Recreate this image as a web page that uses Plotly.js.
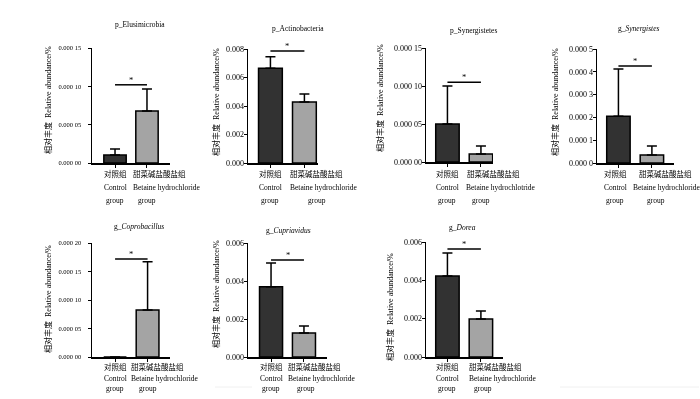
<!DOCTYPE html>
<html><head><meta charset="utf-8">
<script src="https://cdn.plot.ly/plotly-3.0.1.min.js"></script>
<style>html,body{margin:0;padding:0;background:#fff}#chart{width:700px;height:399px;filter:grayscale(100%)}</style>
</head><body><div id="chart"></div>
<script>
// ---------- DATA ----------
const panelTitles = ["p_Elusimicrobia","p_Actinobacteria","p_Synergistetes","g_<i>Synergistes</i>","g_<i>Coprobacillus</i>","g_<i>Cupriavidus</i>","g_<i>Dorea</i>"];
const groupIndex = [0, 1];
const controlMean = [0.0000104, 0.00665, 0.00005, 0.000205, 0, 0.0037, 0.00423];
const controlErr  = [0.0000079, 0.00080, 0.00005, 0.000207, 0, 0.00125, 0.0012];
const betaineMean = [0.0000678, 0.00428, 0.0000105, 0.000035, 0.0000825, 0.00126, 0.00198];
const betaineErr  = [0.0000287, 0.00056, 0.0000105, 0.00004, 0.0000845, 0.00037, 0.00042];
const sigLevel = [0.000102, 0.00786, 0.000105, 0.000425, 0.000172, 0.0051, 0.00563];
const sigMark = ["*","*","*","*","*","*","*"];
const yTickVals = [
  [0, 0.00005, 0.0001, 0.00015],
  [0, 0.002, 0.004, 0.006, 0.008],
  [0, 0.00005, 0.0001, 0.00015],
  [0, 0.0001, 0.0002, 0.0003, 0.0004, 0.0005],
  [0, 0.00005, 0.0001, 0.00015, 0.0002],
  [0, 0.002, 0.004, 0.006],
  [0, 0.002, 0.004, 0.006]
];
const yTickText = [
  ["0.000 00","0.000 05","0.000 10","0.000 15"],
  ["0.000","0.002","0.004","0.006","0.008"],
  ["0.000 00","0.000 05","0.000 10","0.000 15"],
  ["0.000 0","0.000 1","0.000 2","0.000 3","0.000 4","0.000 5"],
  ["0.000 00","0.000 05","0.000 10","0.000 15","0.000 20"],
  ["0.000","0.002","0.004","0.006"],
  ["0.000","0.002","0.004","0.006"]
];
const yRangeMax = [0.00015, 0.008, 0.00015, 0.0005, 0.0002, 0.006, 0.006];
const controlLabel = ["对照组","Control","group"];
const betaineLabelCN = "甜菜碱盐酸盐组";
const betaineLabelEN = ["Betaine hydrochloride","Betaine hydrochloride","Betaine hydrochlotride","Betaine hydrochloride","Betaine hydrochloride","Betaine hydrochloride","Betaine hydrochloride"];
const betaineLabelGroup = "group";
const yAxisTitle = "相对丰度  Relative abundance/%";

// ---------- STYLE / POSITIONS ----------
const W = 700, H = 399;
const panelBox = [ // left, right, top, bottom (px)
  [92,170,48,163],[248,318,49,163],[426,493,48,162],[597,674,49,163],
  [92,170,243,357],[248,327,243,357],[426,503,242,357]
];
const xRange = [[-0.72,1.72],[-0.66,1.40],[-0.64,1.36],[-0.64,1.66],[-0.71,1.69],[-0.70,1.70],[-0.64,1.66]];
const tickFontSize = [6.5,8,8,8,6.5,8,8];
const tickStandoff = [5,-2,-2,-2,5,-2,-2];
const titlePos = [[140,24],[298,29],[473,30],[638,28],[139,226],[288,230],[462,227]];
const yTitlePos = [[48,100],[216,102],[380,98],[555,102],[48,299],[216,294],[390,307]];
const labelRowY = [[174,187,200],[174,187,200],[174,187,200],[174,187,200],[367,378,388],[367,378,388],[367,378,388]];
const betaineShiftCN = [-16,-16,-16,-15,-19,-18,-14];
const betaineShiftEN = [-16,-16,-17,-21,-19,-18,-14];
const controlShift = [0,0,0,-3,0,0,0];
const groupShift = [0,13,0,4,0,2,2];
const FONT = "'Liberation Serif', 'Times New Roman', 'Noto Sans CJK SC', serif";
const controlColor = "#323232", betaineColor = "#a4a4a4";

const data = [], shapes = [], annotations = [];
const layout = {
  width: W, height: H, margin: {l:0,r:0,t:0,b:0},
  paper_bgcolor: "#fff", plot_bgcolor: "rgba(0,0,0,0)",
  showlegend: false, font: {family: FONT, color: "#000", size: 7.5},
  bargap: 0
};
const px2x = p => p / W;
const px2y = p => 1 - p / H;
const tf = (s) => ({size: s, family: FONT, color: "#000"});

for (let i = 0; i < 7; i++) {
  const n = i === 0 ? "" : String(i + 1);
  const xa = "x" + n, ya = "y" + n;
  const b = panelBox[i];
  data.push({
    type: "bar", x: groupIndex, y: [controlMean[i], betaineMean[i]],
    xaxis: xa, yaxis: ya, width: 0.7,
    marker: {color: [controlColor, betaineColor], line: {color: "#000", width: 1.5}},
    error_y: {type: "data", symmetric: false, array: [controlErr[i], betaineErr[i]], arrayminus: [0, 0],
              color: "#000", thickness: 1.5, width: 5, visible: true},
    hoverinfo: "skip"
  });
  layout["xaxis" + n] = {
    domain: [px2x(b[0]), px2x(b[1])], anchor: ya, range: xRange[i], type: "linear",
    showline: true, linecolor: "#000", linewidth: 1.5, showgrid: false, zeroline: false,
    tickvals: groupIndex, ticktext: ["", ""], ticks: "outside", ticklen: 3, tickwidth: 1, tickcolor: "#000",
    fixedrange: true
  };
  layout["yaxis" + n] = {
    domain: [px2y(b[3]), px2y(b[2])], anchor: xa, range: [0, yRangeMax[i]],
    showline: true, linecolor: "#000", linewidth: 1.5, showgrid: false, zeroline: false,
    tickvals: yTickVals[i], ticktext: yTickText[i], ticks: "outside", ticklen: 3, tickwidth: 1, tickcolor: "#000",
    tickfont: tf(tickFontSize[i]), ticklabelstandoff: tickStandoff[i],
    fixedrange: true
  };
  shapes.push({type: "line", xref: xa, yref: ya, x0: groupIndex[0], x1: groupIndex[1], y0: sigLevel[i], y1: sigLevel[i],
               line: {color: "#000", width: 1.5}});
  annotations.push({xref: xa, yref: ya, x: (groupIndex[0] + groupIndex[1]) / 2, y: sigLevel[i], text: sigMark[i],
                    showarrow: false, yanchor: "bottom", yshift: -2, font: tf(8.5)});
  annotations.push({xref: "paper", yref: "paper", x: px2x(titlePos[i][0]), y: px2y(titlePos[i][1]),
                    text: panelTitles[i], showarrow: false, xanchor: "center", yanchor: "middle", font: tf(7.5)});
  annotations.push({xref: "paper", yref: "paper", x: px2x(yTitlePos[i][0]), y: px2y(yTitlePos[i][1]),
                    text: yAxisTitle, showarrow: false, textangle: -90, xanchor: "center", yanchor: "middle", font: tf(8)});
  const ry = labelRowY[i];
  for (let k = 0; k < 3; k++) {
    annotations.push({xref: xa, yref: "paper", x: groupIndex[0], y: px2y(ry[k]), text: controlLabel[k],
                      showarrow: false, xanchor: "center", xshift: controlShift[i], yanchor: "middle", font: tf(7.5)});
  }
  annotations.push({xref: xa, yref: "paper", x: groupIndex[1], y: px2y(ry[0]), text: betaineLabelCN,
                    showarrow: false, xanchor: "left", xshift: betaineShiftCN[i], yanchor: "middle", font: tf(7.5)});
  annotations.push({xref: xa, yref: "paper", x: groupIndex[1], y: px2y(ry[1]), text: betaineLabelEN[i],
                    showarrow: false, xanchor: "left", xshift: betaineShiftEN[i], yanchor: "middle", font: tf(7.5)});
  annotations.push({xref: xa, yref: "paper", x: groupIndex[1], y: px2y(ry[2]), text: betaineLabelGroup,
                    showarrow: false, xanchor: "center", xshift: groupShift[i], yanchor: "middle", font: tf(7.5)});
}
shapes.push({type: "line", xref: "paper", yref: "paper", x0: px2x(215), x1: px2x(252), y0: px2y(387), y1: px2y(387), line: {color: "#f0f0f0", width: 1}});
shapes.push({type: "line", xref: "paper", yref: "paper", x0: px2x(560), x1: px2x(699), y0: px2y(387), y1: px2y(387), line: {color: "#f0f0f0", width: 1}});
layout.shapes = shapes;
layout.annotations = annotations;
Plotly.newPlot("chart", data, layout, {staticPlot: true, displayModeBar: false});
</script></body></html>
